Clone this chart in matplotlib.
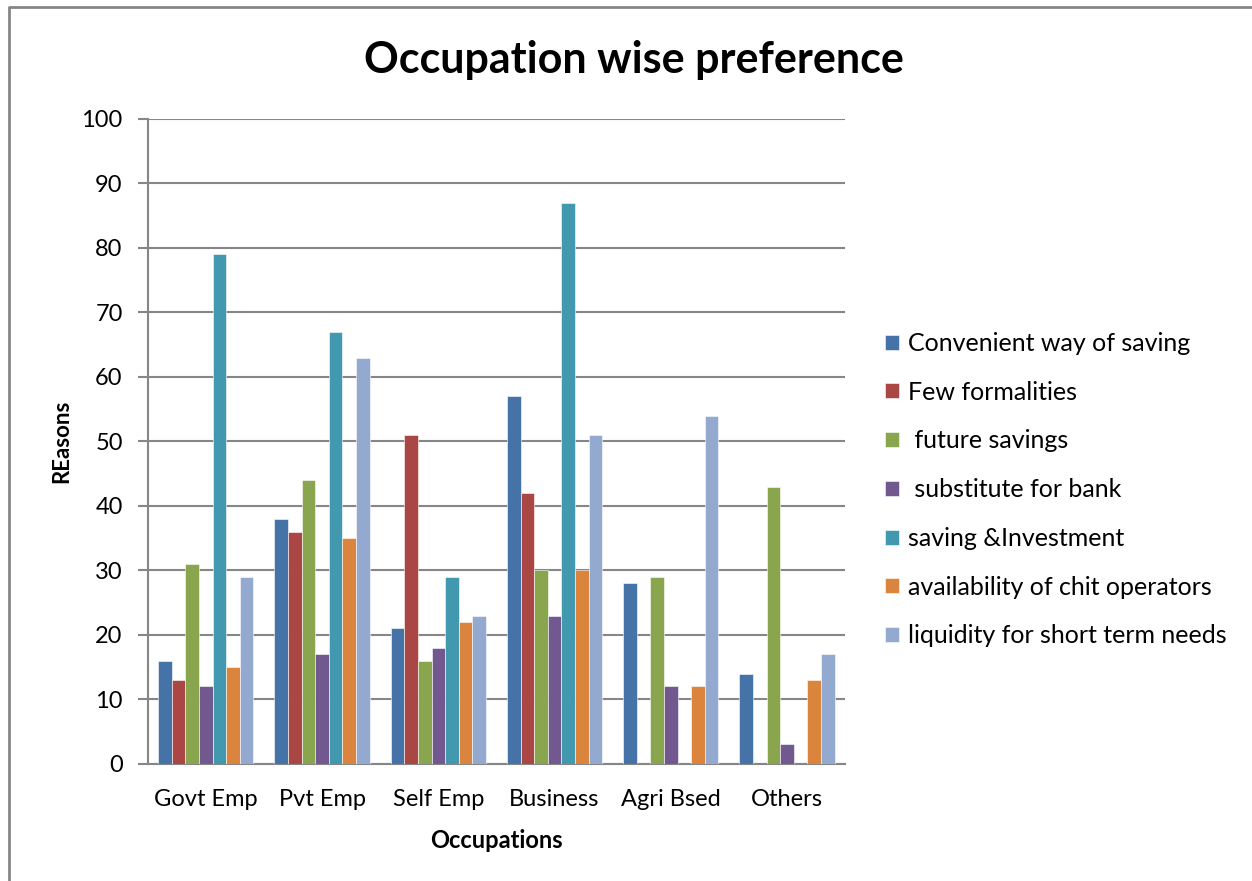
import matplotlib

matplotlib.use("Agg")

import matplotlib.pyplot as plt
import numpy as np
from matplotlib.lines import Line2D

occupations = ["Govt Emp", "Pvt Emp", "Self Emp", "Business", "Agri Bsed", "Others"]

convenient_way = [16, 38, 21, 57, 28, 14]
few_formalities = [13, 36, 51, 42, 0, 0]
future_savings = [31, 44, 16, 30, 29, 43]
substitute_for_bank = [12, 17, 18, 23, 12, 3]
saving_investment = [79, 67, 29, 87, 0, 0]
chit_operators = [15, 35, 22, 30, 12, 13]
liquidity = [29, 63, 23, 51, 54, 17]

series_labels = [
    "Convenient way of saving",
    "Few formalities",
    " future savings",
    " substitute for bank",
    "saving &Investment",
    "availability of chit operators",
    "liquidity for short term needs",
]
series_values = [
    convenient_way,
    few_formalities,
    future_savings,
    substitute_for_bank,
    saving_investment,
    chit_operators,
    liquidity,
]
colors = ["#4572A7", "#AA4643", "#89A54E", "#71588F", "#4198AF", "#DB843D", "#93A9CF"]

plt.rcParams["font.family"] = ["Lato", "DejaVu Sans"]

fig = plt.figure(figsize=(12.52, 8.81), dpi=100)
ax = fig.add_axes([0.118, 0.133, 0.557, 0.732])

x = np.arange(len(occupations))
bar_w = 0.117
for i, (label, vals, color) in enumerate(zip(series_labels, series_values, colors)):
    offset = (i - 3) * bar_w
    ax.bar(x + offset, vals, width=bar_w, color=color, label=label,
           edgecolor="white", linewidth=0.4, zorder=3)

ax.set_xlim(-0.5, len(occupations) - 0.5)
ax.set_ylim(0, 100)
ax.set_yticks(range(0, 101, 10))
ax.set_xticks(x, labels=occupations)
ax.tick_params(axis="x", length=0, labelsize=17, pad=18)
ax.tick_params(axis="y", length=7, width=1.5, color="#868686", labelsize=17, pad=11)
ax.grid(axis="y", color="#868686", linewidth=1.5, zorder=0)
for side in ("top", "right"):
    ax.spines[side].set_visible(False)
for side in ("left", "bottom"):
    ax.spines[side].set_color("#868686")
    ax.spines[side].set_linewidth(1.5)

ax.set_xlabel("Occupations", fontsize=17, fontweight="bold", labelpad=14)
ax.set_ylabel("REasons", fontsize=16, fontweight="bold", labelpad=7)
fig.suptitle("Occupation wise preference", fontsize=31, fontweight="bold",
             x=0.506, y=0.955)

ax.legend(loc="center left", bbox_to_anchor=(1.025, 0.425), frameon=False,
          fontsize=18, handlelength=0.55, handleheight=0.55, handletextpad=0.35,
          labelspacing=1.03)

fig.add_artist(Line2D([0.0075, 0.0075, 1.0], [0.0, 0.992, 0.992],
                      transform=fig.transFigure, color="#868686", linewidth=2))

fig.savefig("out.png", dpi=100)
